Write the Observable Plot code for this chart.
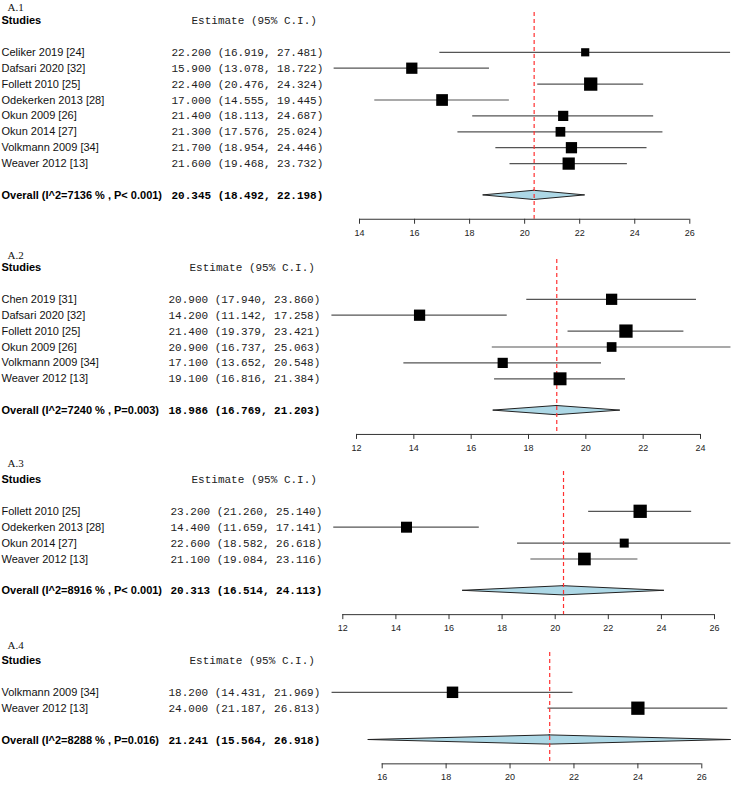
<!DOCTYPE html>
<html><head><meta charset="utf-8">
<script src="https://cdn.jsdelivr.net/npm/d3@7"></script>
<script src="https://cdn.jsdelivr.net/npm/@observablehq/plot@0.6"></script>
<style>
body{margin:0;background:#fff;}
#chart svg{display:block;}
</style>
</head><body><div id="chart"></div>
<script>
// ---------- Panel A.1 ----------
const studiesA1 = ["Celiker 2019 [24]","Dafsari 2020 [32]","Follett 2010 [25]","Odekerken 2013 [28]","Okun 2009 [26]","Okun 2014 [27]","Volkmann 2009 [34]","Weaver 2012 [13]"];
const estA1 = [22.2, 15.9, 22.4, 17.0, 21.4, 21.3, 21.7, 21.6];
const loA1  = [16.919, 13.078, 20.476, 14.555, 18.113, 17.576, 18.954, 19.468];
const hiA1  = [27.481, 18.722, 24.324, 19.445, 24.687, 25.024, 24.446, 23.732];
const weightA1 = [6.8, 12.9, 18.0, 14.0, 10.6, 9.6, 12.9, 15.3];
const overallA1 = [20.345, 18.492, 22.198];
const overallLabelA1 = "Overall (I^2=7136 % , P< 0.001)";
const ticksA1 = [14, 16, 18, 20, 22, 24, 26];

// ---------- Panel A.2 ----------
const studiesA2 = ["Chen 2019 [31]","Dafsari 2020 [32]","Follett 2010 [25]","Okun 2009 [26]","Volkmann 2009 [34]","Weaver 2012 [13]"];
const estA2 = [20.9, 14.2, 21.4, 20.9, 17.1, 19.1];
const loA2  = [17.940, 11.142, 19.379, 16.737, 13.652, 16.816];
const hiA2  = [23.860, 17.258, 23.421, 25.063, 20.548, 21.384];
const weightA2 = [15.9, 15.9, 22.2, 11.8, 13.1, 21.1];
const overallA2 = [18.986, 16.769, 21.203];
const overallLabelA2 = "Overall (I^2=7240 % , P=0.003)";
const ticksA2 = [12, 14, 16, 18, 20, 22, 24];

// ---------- Panel A.3 ----------
const studiesA3 = ["Follett 2010 [25]","Odekerken 2013 [28]","Okun 2014 [27]","Weaver 2012 [13]"];
const estA3 = [23.2, 14.4, 22.6, 21.1];
const loA3  = [21.260, 11.659, 18.582, 19.084];
const hiA3  = [25.140, 17.141, 26.618, 23.116];
const weightA3 = [32.8, 22.4, 15.0, 29.8];
const overallA3 = [20.313, 16.514, 24.113];
const overallLabelA3 = "Overall (I^2=8916 % , P< 0.001)";
const ticksA3 = [12, 14, 16, 18, 20, 22, 24, 26];

// ---------- Panel A.4 ----------
const studiesA4 = ["Volkmann 2009 [34]","Weaver 2012 [13]"];
const estA4 = [18.2, 24.0];
const loA4  = [14.431, 21.187];
const hiA4  = [21.969, 26.813];
const weightA4 = [42.7, 57.3];
const overallA4 = [21.241, 15.564, 26.918];
const overallLabelA4 = "Overall (I^2=8288 % , P=0.016)";
const ticksA4 = [16, 18, 20, 22, 24, 26];

const panelNames = ["A.1", "A.2", "A.3", "A.4"];

const SANS = "'Liberation Sans', Arial, sans-serif";
const MONO = "'Liberation Mono', 'Courier New', monospace";
const SERIF = "'Liberation Serif', 'Times New Roman', serif";
const ROW_H = 15.9;
const TOP = 20;

function panel(cfg) {
  const n = cfg.studies.length;
  const bottomRow = n + 4.5;
  const oRow = n + 3;
  const rows = cfg.studies.map((s, i) => ({study: s, est: cfg.est[i], lo: cfg.lo[i], hi: cfg.hi[i], w: cfg.weight[i], row: i + 2}));
  const [oEst, oLo, oHi] = cfg.overall;
  const ov = {label: cfg.overallLabel, est: oEst, lo: oLo, hi: oHi, row: oRow};
  const half = 0.29;
  const diamond = [
    {y: oRow - half, x1: oEst, x2: oEst},
    {y: oRow, x1: oLo, x2: oHi},
    {y: oRow + half, x1: oEst, x2: oEst}
  ];
  const fmt = d => `${d.est.toFixed(3)} (${d.lo.toFixed(3)}, ${d.hi.toFixed(3)})`;
  const ticks = cfg.ticks;
  return Plot.plot({
    width: 750,
    height: cfg.height,
    marginTop: TOP,
    marginBottom: cfg.height - TOP - bottomRow * ROW_H,
    marginLeft: 0,
    marginRight: 0,
    x: {domain: [ticks[0], ticks[ticks.length - 1]], range: cfg.xRange},
    y: {domain: [0, bottomRow], reverse: true, axis: null},
    r: {type: "sqrt", domain: [0, d3.max(cfg.weight)], range: [0, 7.5]},
    style: {fontFamily: SANS, color: "#222", background: "white", overflow: "visible"},
    marks: [
      // panel label
      Plot.text([cfg.name], {y: () => cfg.labelRow, text: d => d, frameAnchor: "left", textAnchor: "start", dx: 7, fontFamily: SERIF, fontSize: 11, fill: "#111"}),
      // headers
      Plot.text(["Studies"], {y: () => 0, text: d => d, frameAnchor: "left", textAnchor: "start", dx: 1, fontWeight: "bold", fontSize: 11, fill: "#000"}),
      Plot.text(["Estimate (95% C.I.)"], {y: () => 0, text: d => d, frameAnchor: "left", textAnchor: "start", dx: cfg.headX, fontFamily: MONO, fontSize: 11, fill: "#222"}),
      // study names + estimates
      Plot.text(rows, {y: "row", text: "study", frameAnchor: "left", textAnchor: "start", dx: 1, fontSize: 11, fill: "#111"}),
      Plot.text(rows, {y: "row", text: fmt, frameAnchor: "left", textAnchor: "start", dx: cfg.numX, fontFamily: MONO, fontSize: 11, fill: "#222"}),
      // overall
      Plot.text([ov], {y: "row", text: "label", frameAnchor: "left", textAnchor: "start", dx: 1, fontWeight: "bold", fontSize: 11, fill: "#000"}),
      Plot.text([ov], {y: "row", text: fmt, frameAnchor: "left", textAnchor: "start", dx: cfg.numX, fontFamily: MONO, fontWeight: "bold", fontSize: 11, fill: "#000"}),
      // CI lines
      Plot.ruleY(rows, {y: "row", x1: "lo", x2: "hi", stroke: "#555", strokeWidth: 1.2}),
      // diamond
      Plot.areaX(diamond, {y: "y", x1: "x1", x2: "x2", fill: "lightblue", stroke: "#222", strokeWidth: 1}),
      // overall reference line
      Plot.ruleX([oEst], {y1: () => -0.5, y2: () => bottomRow, stroke: "#ff3030", strokeWidth: 1.2, strokeDasharray: "4,3"}),
      // boxes
      Plot.dot(rows, {x: "est", y: "row", r: "w", symbol: "square", fill: "black", stroke: "none"}),
      // axis
      Plot.ruleY([bottomRow], {x1: () => ticks[0], x2: () => ticks[ticks.length - 1], stroke: "#333", strokeWidth: 1}),
      Plot.axisX({ticks: ticks, tickSize: 5, tickPadding: 5, fontSize: 9, label: null, tickFormat: d => String(d), stroke: "#333"})
    ]
  });
}

const configs = [
  {name: panelNames[0], studies: studiesA1, est: estA1, lo: loA1, hi: hiA1, weight: weightA1, overall: overallA1, overallLabel: overallLabelA1, ticks: ticksA1, height: 247, xRange: [359, 689.3], numX: 171, headX: 191, labelRow: -0.85},
  {name: panelNames[1], studies: studiesA2, est: estA2, lo: loA2, hi: hiA2, weight: weightA2, overall: overallA2, overallLabel: overallLabelA2, ticks: ticksA2, height: 212, xRange: [356, 700], numX: 168, headX: 189, labelRow: -0.75},
  {name: panelNames[2], studies: studiesA3, est: estA3, lo: loA3, hi: hiA3, weight: weightA3, overall: overallA3, overallLabel: overallLabelA3, ticks: ticksA3, height: 181, xRange: [342.3, 714], numX: 170, headX: 191, labelRow: -1},
  {name: panelNames[3], studies: studiesA4, est: estA4, lo: loA4, hi: hiA4, weight: weightA4, overall: overallA4, overallLabel: overallLabelA4, ticks: ticksA4, height: 159, xRange: [381.7, 701.3], numX: 168, headX: 189, labelRow: -0.95}
];

const root = document.getElementById("chart");
for (const c of configs) root.appendChild(panel(c));
</script>
</body></html>
